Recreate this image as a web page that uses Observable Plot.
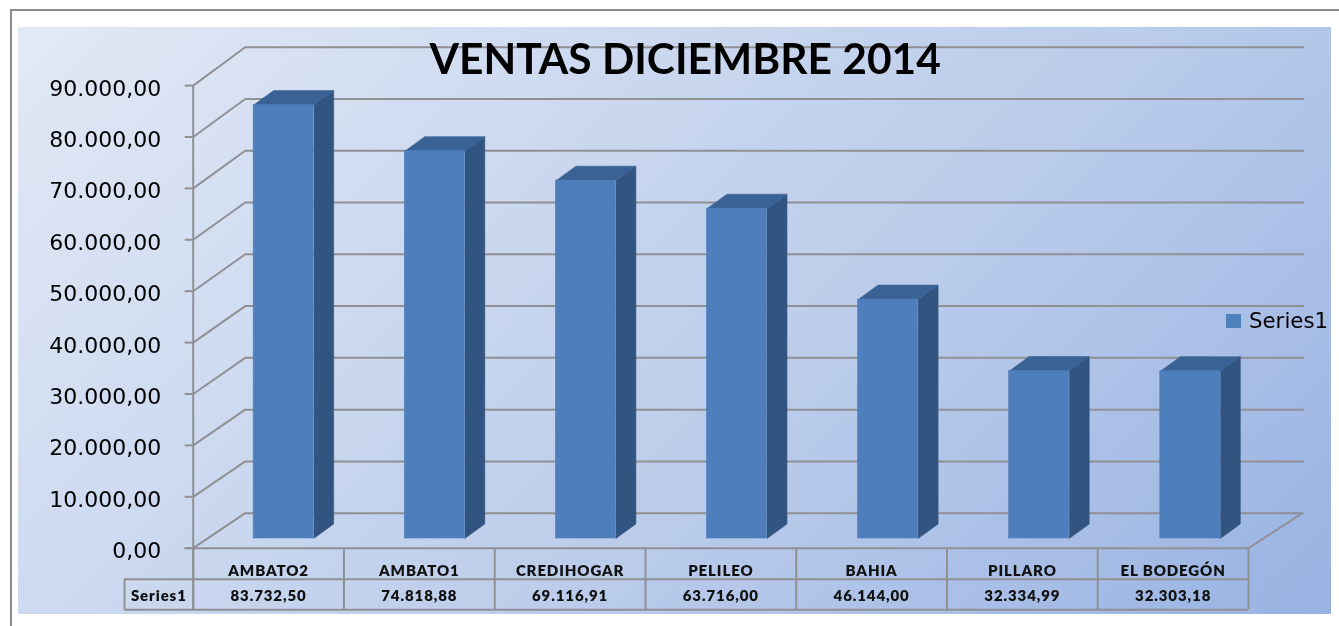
<!DOCTYPE html>
<html>
<head>
<meta charset="utf-8">
<script src="https://cdn.jsdelivr.net/npm/d3@7"></script>
<script src="https://cdn.jsdelivr.net/npm/@observablehq/plot@0.6"></script>
<style>
  html,body{margin:0;padding:0;background:#fff;overflow:hidden}
  #stage{position:relative;width:1339px;height:626px;overflow:hidden}
  #frame{position:absolute;left:10px;top:9px;width:1400px;height:700px;border:2px solid #8c8c8c;box-sizing:border-box}
  #panel{position:absolute;left:18px;top:27px;width:1313px;height:587px;
    background:linear-gradient(135deg,#e2e9f6 0%,#b9cbea 62%,#98b2e2 100%)}
  #plot{position:absolute;left:0;top:0}
  #plot svg{background:transparent;filter:blur(.45px)}
  .tbl text{letter-spacing:.9px}
  #legend{position:absolute;left:1226px;top:308px;height:26px;font:21.3px "DejaVu Sans",sans-serif;color:#000;line-height:26px;white-space:nowrap;filter:blur(.3px)}
  #legend i{position:absolute;left:0;top:6px;width:15px;height:14px;background:#4f81bd}
  #legend span{position:absolute;left:23px;top:0}
</style>
</head>
<body>
<div id="stage">
  <div id="frame"></div>
  <div id="panel"></div>
  <div id="plot"></div>
  <div id="legend"><i></i><span>Series1</span></div>
</div>
<script>
const titleText = "VENTAS DICIEMBRE 2014";
const seriesName = "Series1";
const categories = ["AMBATO2","AMBATO1","CREDIHOGAR","PELILEO","BAHIA","PILLARO","EL BODEGÓN"];
const sales = [83732.50,74818.88,69116.91,63716.00,46144.00,32334.99,32303.18];
const yTicks = [0,10000,20000,30000,40000,50000,60000,70000,80000,90000];
const es = d3.formatLocale({decimal:",",thousands:".",grouping:[3],currency:["",""]});
const money = es.format(",.2f");
const wallDX = 0.345, wallDY = 6809, wallK = 1.00739;
const barBase = 1887, barK = 1.0072, barDX = 0.1327, barDY = 2821;
const barStart = 0.6, barStep = 1.0023, barHalf = 0.199;
const gridEnd = 7.365, floorEnd = 7.358;
const row1 = -6031, row2 = -11984, row1Text = -4533, row2Text = -9339, headLeft = -0.4557;
const n = categories.length;
const bars = categories.map((c,i)=>{
  const xc = barStart + i*barStep;
  const top = barBase + sales[i]*barK;
  return {c, v:sales[i], x1:xc-barHalf, x2:xc+barHalf, y1:barBase, y2:top, i};
});
const sidePts = bars.flatMap(b=>[
  {id:b.i,x:b.x2,y:b.y1},{id:b.i,x:b.x2+barDX,y:b.y1+barDY},
  {id:b.i,x:b.x2+barDX,y:b.y2+barDY},{id:b.i,x:b.x2,y:b.y2}]);
const topPts = bars.flatMap(b=>[
  {id:b.i,x:b.x1,y:b.y2},{id:b.i,x:b.x1+barDX,y:b.y2+barDY},
  {id:b.i,x:b.x2+barDX,y:b.y2+barDY},{id:b.i,x:b.x2,y:b.y2}]);
const gridPts = yTicks.flatMap(v=>[
  {id:v,x:0,y:v},{id:v,x:wallDX,y:wallDY+v*wallK},{id:v,x:v===0?floorEnd:gridEnd,y:wallDY+v*wallK}]);
const floorRight = [{x:floorEnd,y:wallDY},{x:n,y:0}];
const grey = "#909095";
const columns = d3.range(n+1);
const chart = Plot.plot({
  width:1339, height:626,
  marginLeft:192.7, marginRight:0, marginTop:0, marginBottom:0,
  style:{background:"transparent",color:"#000"},
  x:{domain:[0,(1339-192.7)/150.76], axis:null},
  y:{domain:[-15233,106556], axis:null},
  marks:[
    Plot.line(gridPts,{x:"x",y:"y",z:"id",stroke:grey,strokeWidth:2,curve:"linear"}),
    Plot.line(floorRight,{x:"x",y:"y",stroke:grey,strokeWidth:2}),
    Plot.ruleX([0],{y1:row2,y2:90000,stroke:grey,strokeWidth:2}),
    Plot.line(sidePts,{x:"x",y:"y",z:"id",fill:"#325480",stroke:"#325480",strokeWidth:.6}),
    Plot.line(topPts,{x:"x",y:"y",z:"id",fill:"#3a6294",stroke:"#3a6294",strokeWidth:.6}),
    Plot.rect(bars,{x1:"x1",x2:"x2",y1:"y1",y2:"y2",fill:"#4e7fbc",stroke:"#4e7fbc",strokeWidth:.6}),
    Plot.axisY({ticks:yTicks,anchor:"left",tickSize:8,tickFormat:()=>"",stroke:grey,strokeWidth:2,label:null}),
    Plot.axisY({ticks:yTicks,tickFormat:money,anchor:"left",tickSize:0,tickPadding:32,
      fill:"#000",fontSize:22,fontFamily:"DejaVu Sans",dy:3,label:null}),
    Plot.ruleY([0],{x1:-0.055,x2:n,stroke:grey,strokeWidth:2}),
    Plot.ruleY([row1,row2],{x1:headLeft,x2:n,stroke:grey,strokeWidth:2}),
    Plot.ruleX(columns,{y1:0,y2:row2,stroke:grey,strokeWidth:2}),
    Plot.ruleX([headLeft],{y1:row1,y2:row2,stroke:grey,strokeWidth:2}),
    Plot.text(categories,{x:(d,i)=>i+0.5,y:()=>row1Text,text:d=>d,fontFamily:"Lato",fontWeight:800,fontSize:15,fill:"#111",className:"tbl"}),
    Plot.text(sales,{x:(d,i)=>i+0.5,y:()=>row2Text,text:d=>money(d),fontFamily:"Lato",fontWeight:800,fontSize:15,fill:"#111",className:"tbl"}),
    Plot.text([seriesName],{x:headLeft/2,y:row2Text,fontFamily:"Lato",fontWeight:800,fontSize:15,fill:"#111",className:"tbl"}),
    Plot.text([titleText],{frameAnchor:"top-left",dx:492,dy:43,textAnchor:"middle",fontFamily:"Lato",fontWeight:700,fontSize:42.5,fill:"#000",lineAnchor:"top"})
  ]
});
document.getElementById("plot").appendChild(chart);
</script>
</body>
</html>
